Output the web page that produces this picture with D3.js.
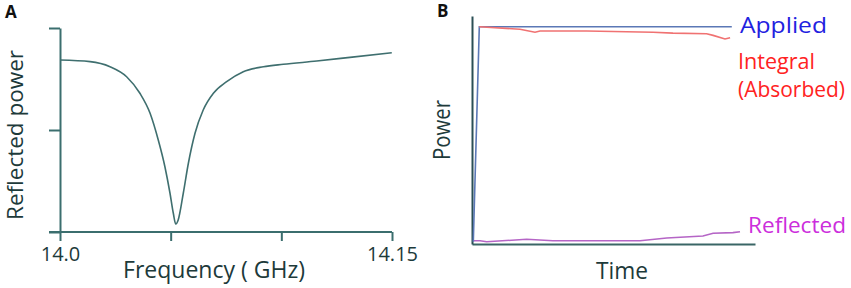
<!DOCTYPE html>
<html lang="en">
<head>
<meta charset="UTF-8">
<title>Reflected power and power vs time</title>
<script src="https://cdn.jsdelivr.net/npm/d3@7"></script>
<style>
  body { margin: 0; background: #fff; }
  svg text { font-family: "Open Sans", sans-serif; }
</style>
</head>
<body>
<svg id="chart" width="851" height="288"></svg>
<script>
// panel A: reflected power vs frequency (normalised 0..1)
var freqGHz = [14.0, 14.0136, 14.0226, 14.0301, 14.0361, 14.0407, 14.0444, 14.0474, 14.0497, 14.0512,
  14.0523, 14.0534, 14.0557, 14.058, 14.061, 14.0647, 14.0693, 14.0753, 14.0828, 14.0919, 14.1009, 14.116, 14.131, 14.1499];
var reflPower = [0.843, 0.835, 0.81, 0.761, 0.68, 0.582, 0.451, 0.32, 0.19, 0.092,
  0.039, 0.059, 0.19, 0.337, 0.484, 0.598, 0.68, 0.737, 0.786, 0.81, 0.822, 0.838, 0.856, 0.879];
var freqTicks = [14.0, 14.05, 14.1, 14.15];
var freqTickLabels = ["14.0", "", "", "14.15"];
var powerTicks = [0, 0.5, 1];

// panel B: power vs time (arbitrary units)
var appliedT = [0.46, 2.58, 91.8];
var appliedV = [1.0, 95.3, 95.3];
var integralT = [2.58, 16.96, 22.26, 24.03, 40.5, 63.96, 71.0, 82.9, 85.2, 89.4, 91.2];
var integralV = [95.3, 94.2, 92.9, 93.4, 93.4, 92.9, 92.5, 92.2, 91.5, 89.9, 90.5];
var reflectedT = [0.46, 2.83, 5.19, 19.3, 28.6, 59.4, 68.8, 81.6, 85.2, 92.2, 94.7];
var reflectedV = [1.45, 1.45, 1.0, 2.06, 1.45, 1.45, 2.6, 3.5, 4.7, 5.0, 5.4];

var svg = d3.select("#chart");
var axisA = "#3b6e6e";

// ---------- panel A ----------
var xA = d3.scaleLinear().domain([14.0, 14.15]).range([60, 392]);
var yA = d3.scaleLinear().domain([0, 1]).range([232, 28]);

var gA = svg.append("g");

var xAxisA = gA.append("g")
  .attr("transform", "translate(0," + yA(0) + ")")
  .call(d3.axisBottom(xA).tickValues(freqTicks)
    .tickFormat(function (d, i) { return freqTickLabels[i]; })
    .tickSizeInner(9).tickSizeOuter(0).tickPadding(6));
xAxisA.select(".domain").remove();
xAxisA.selectAll("line").attr("stroke", axisA).attr("stroke-width", 2);
xAxisA.selectAll("text").attr("font-size", 20).attr("fill", "#1d3a3a")
  .attr("font-family", "Open Sans");
// x baseline runs a little past the y axis
gA.append("line")
  .attr("x1", xA.range()[0] - 11).attr("x2", xA.range()[1])
  .attr("y1", yA(0)).attr("y2", yA(0))
  .attr("stroke", axisA).attr("stroke-width", 2);

var yAxisA = gA.append("g")
  .attr("transform", "translate(" + xA(14.0) + ",0)")
  .call(d3.axisLeft(yA).tickValues(powerTicks).tickFormat("").tickSizeInner(11).tickSizeOuter(0));
yAxisA.select(".domain").attr("stroke", axisA).attr("stroke-width", 2);
yAxisA.selectAll("line").attr("stroke", axisA).attr("stroke-width", 2);

var curveA = freqGHz.map(function (f, i) { return [f, reflPower[i]]; });
gA.append("path")
  .datum(curveA)
  .attr("fill", "none")
  .attr("stroke", "#3f6f6f")
  .attr("stroke-width", 1.6)
  .attr("d", d3.line()
    .x(function (d) { return xA(d[0]); })
    .y(function (d) { return yA(d[1]); })
    .curve(d3.curveMonotoneX));

gA.append("text").text("Frequency ( GHz)")
  .attr("x", 214).attr("y", 278)
  .attr("text-anchor", "middle").attr("font-size", 23).attr("fill", "#1d3a3a")
  .attr("textLength", 182).attr("lengthAdjust", "spacingAndGlyphs");
gA.append("text").text("Reflected power")
  .attr("transform", "translate(23,135) rotate(-90)")
  .attr("text-anchor", "middle").attr("font-size", 22).attr("fill", "#1d3a3a")
  .attr("textLength", 170).attr("lengthAdjust", "spacingAndGlyphs");
gA.append("text").text("A")
  .attr("x", 5).attr("y", 18).attr("font-size", 17).attr("font-weight", "bold")
  .attr("font-family", "Liberation Sans, Arial, sans-serif").attr("fill", "#111");

// ---------- panel B ----------
var xB = d3.scaleLinear().domain([0, 100]).range([472, 755]);
var yB = d3.scaleLinear().domain([0, 100]).range([244, 16]);
var gB = svg.append("g");

gB.append("g")
  .attr("transform", "translate(0," + yB(0) + ")")
  .call(d3.axisBottom(xB).tickValues([]).tickSizeOuter(0))
  .select(".domain").attr("stroke", "#3a6666").attr("stroke-width", 2);
gB.append("g")
  .attr("transform", "translate(" + xB(0) + ",0)")
  .call(d3.axisLeft(yB).tickValues([]).tickSizeOuter(0))
  .select(".domain").attr("stroke", "#2b4f55").attr("stroke-width", 2);

var lineB = d3.line()
  .x(function (d) { return xB(d[0]); })
  .y(function (d) { return yB(d[1]); });

function pairs(t, v) { return t.map(function (x, i) { return [x, v[i]]; }); }

gB.append("path").datum(pairs(reflectedT, reflectedV))
  .attr("fill", "none").attr("stroke", "#b565c6").attr("stroke-width", 1.6).attr("d", lineB);
gB.append("path").datum(pairs(appliedT, appliedV))
  .attr("fill", "none").attr("stroke", "#5b78b6").attr("stroke-width", 1.6).attr("d", lineB);
gB.append("path").datum(pairs(integralT, integralV))
  .attr("fill", "none").attr("stroke", "#f07272").attr("stroke-width", 1.6).attr("d", lineB);

function label(txt, x, y, color, len) {
  gB.append("text").text(txt)
    .attr("x", x).attr("y", y).attr("font-size", 22).attr("fill", color)
    .attr("textLength", len).attr("lengthAdjust", "spacingAndGlyphs");
}
label("Applied", 740, 33, "#1f22e0", 87);
label("Integral", 738, 69, "#ff2222", 77);
label("(Absorbed)", 738, 97, "#ff2222", 107);
label("Reflected", 748, 233, "#cc2edc", 98);

gB.append("text").text("Time")
  .attr("x", 622).attr("y", 279)
  .attr("text-anchor", "middle").attr("font-size", 23).attr("fill", "#1d3a3a")
  .attr("textLength", 52).attr("lengthAdjust", "spacingAndGlyphs");
gB.append("text").text("Power")
  .attr("transform", "translate(450,130) rotate(-90)")
  .attr("text-anchor", "middle").attr("font-size", 23).attr("fill", "#1d3a3a")
  .attr("textLength", 60).attr("lengthAdjust", "spacingAndGlyphs");
gB.append("text").text("B")
  .attr("x", 437).attr("y", 17).attr("font-size", 17).attr("font-weight", "bold")
  .attr("font-family", "Liberation Sans, Arial, sans-serif").attr("fill", "#111");
</script>
</body>
</html>
